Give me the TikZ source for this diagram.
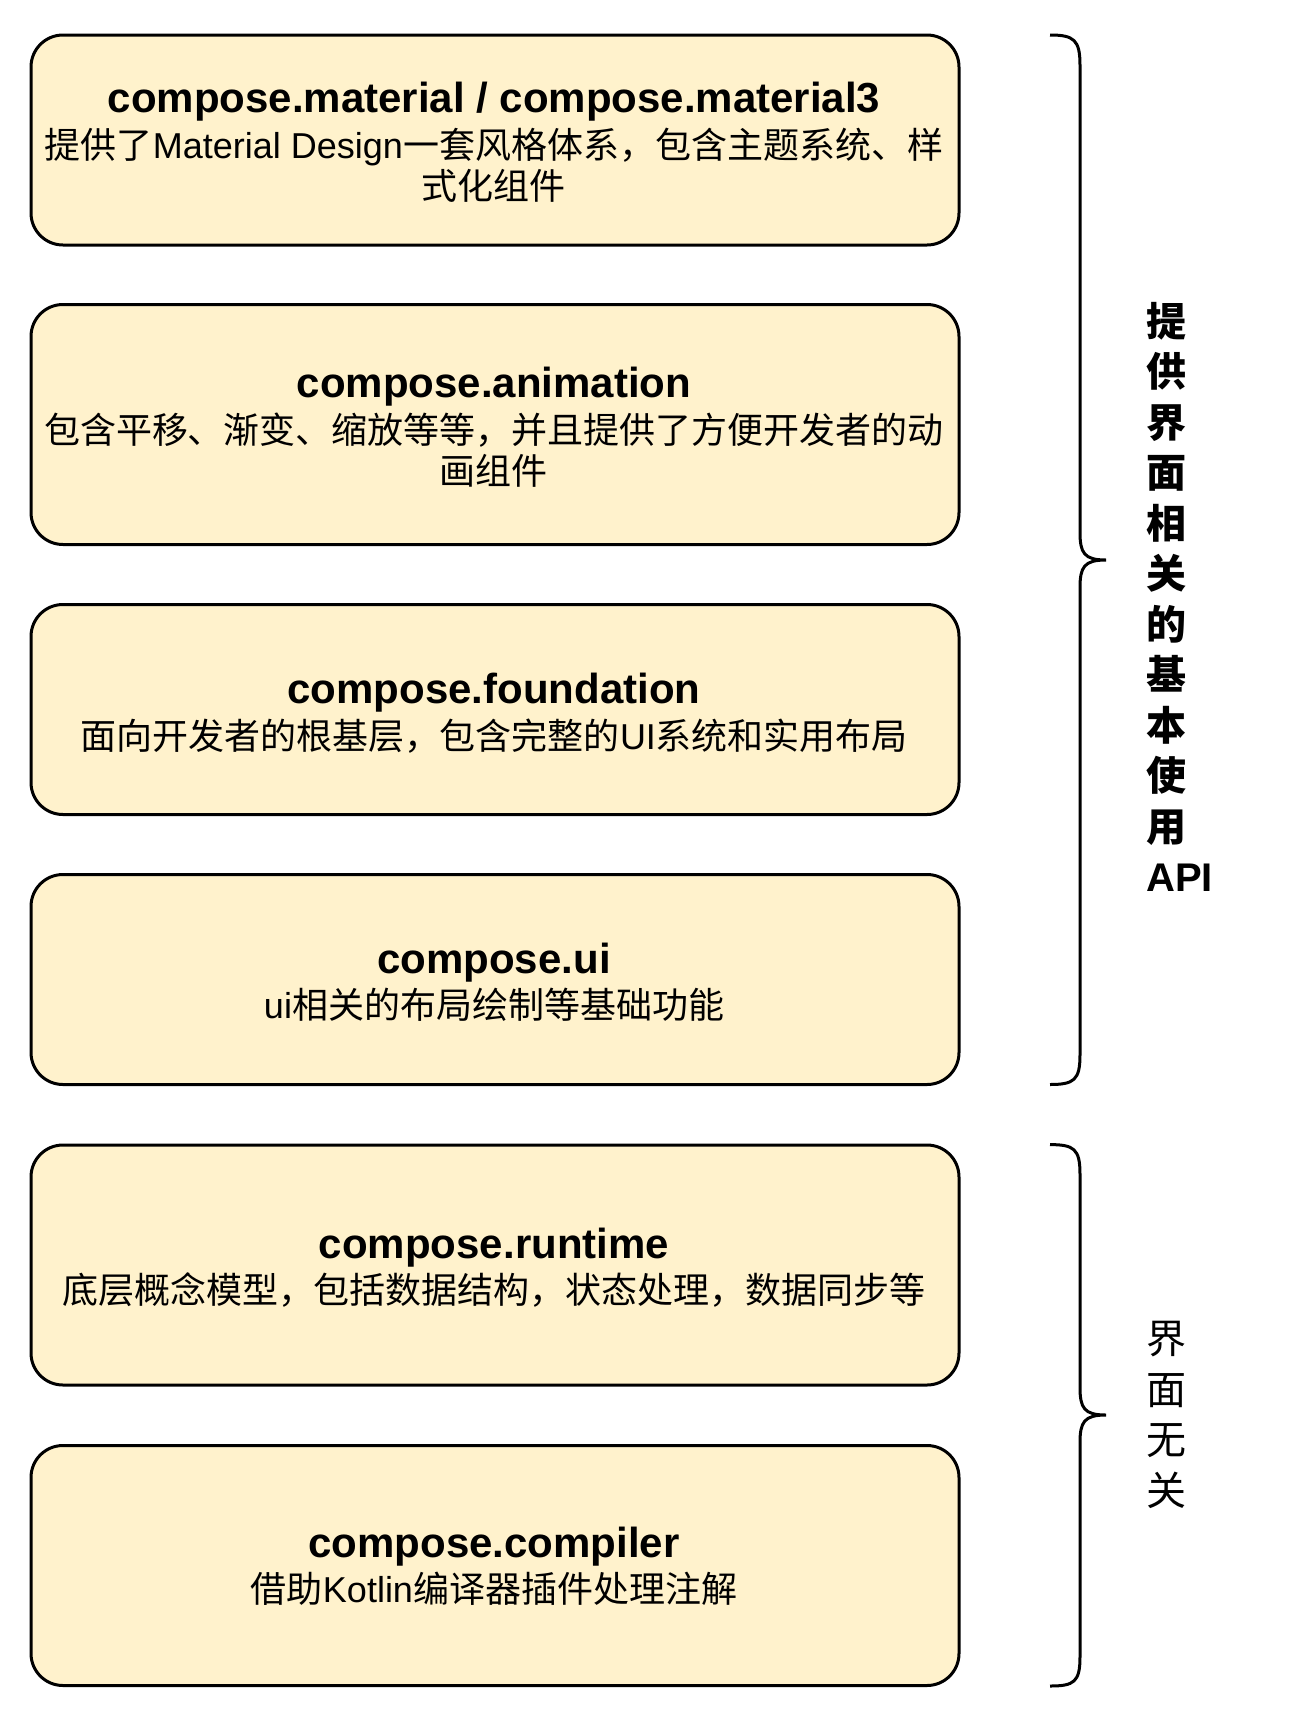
\documentclass[tikz,border=0pt]{standalone}
\usepackage{fontspec}
\setmainfont{Liberation Sans}
\newfontfamily\cjk{Noto Sans CJK SC}
\definecolor{boxfill}{HTML}{FFF2CC}
\begin{document}
\begin{tikzpicture}[x=1pt,y=-1pt,
  box/.style={draw=black, line width=3pt, fill=boxfill, rounded corners=32pt, minimum width=928pt, inner sep=0pt},
  ttl/.style={font=\fontsize{42}{48}\selectfont\bfseries, inner sep=0pt},
  dsc/.style={font=\fontsize{36}{41}\selectfont, align=center, inner sep=0pt},
  bracepath/.style={draw=black, line width=3pt},
  side/.style={align=left, inner sep=0pt, anchor=west}]
\useasboundingbox (0,0) rectangle (1302,1714);

% boxes
\node[box, minimum height=210pt] (b1) at (495,140) {};
\node[box, minimum height=240pt] (b2) at (495,424.5) {};
\node[box, minimum height=210pt] (b3) at (495,709.5) {};
\node[box, minimum height=210pt] (b4) at (495,979.5) {};
\node[box, minimum height=240pt] (b5) at (495,1265) {};
\node[box, minimum height=240pt] (b6) at (495,1565.5) {};

% titles
\node[ttl] (t1) at (494,102) {compose.material / compose.material3};
\node[ttl] (t2) at (494,386.6) {compose.animation};
\node[ttl] (t3) at (494,692.7) {compose.foundation};
\node[ttl] (t4) at (494,962.7) {compose.ui};
\node[ttl] (t5) at (494,1248) {compose.runtime};
\node[ttl] (t6) at (494,1547) {compose.compiler};

% descriptions
\node[dsc] (d1) at (494,165) {{\cjk 提供了}Material Design{\cjk 一套风格体系，包含主题系统、样}\\{\cjk 式化组件}};
\node[dsc] (d2) at (494,450) {{\cjk 包含平移、渐变、缩放等等，并且提供了方便开发者的动}\\{\cjk 画组件}};
\node[dsc] (d3) at (494,735.7) {{\cjk 面向开发者的根基层，包含完整的}UI{\cjk 系统和实用布局}};
\node[dsc] (d4) at (494,1004.7) {ui{\cjk 相关的布局绘制等基础功能}};
\node[dsc] (d5) at (494,1290) {{\cjk 底层概念模型，包括数据结构，状态处理，数据同步等}};
\node[dsc] (d6) at (494,1588.4) {{\cjk 借助}Kotlin{\cjk 编译器插件处理注解}};

% braces
\draw[bracepath] (1050,35) .. controls (1074,35) and (1080,40) .. (1080,65)
  -- (1080,532) .. controls (1080,553) and (1084,560) .. (1106,560)
  .. controls (1084,560) and (1080,567) .. (1080,588)
  -- (1080,1055) .. controls (1080,1080) and (1074,1084.5) .. (1050,1084.5);
\draw[bracepath] (1050,1144.6) .. controls (1074,1144.6) and (1080,1149) .. (1080,1174)
  -- (1080,1387) .. controls (1080,1408) and (1084,1415) .. (1106,1415)
  .. controls (1084,1415) and (1080,1422) .. (1080,1443)
  -- (1080,1657) .. controls (1080,1682) and (1074,1686) .. (1050,1686);

% side labels
\node[side, font=\cjk\bfseries\fontsize{40}{50.5}\selectfont] (s1) at (1146,597) {提\\供\\界\\面\\相\\关\\的\\基\\本\\使\\用\\{\rmfamily\bfseries API}};
\node[side, font=\cjk\fontsize{40}{50.5}\selectfont] (s2) at (1146,1415) {界\\面\\无\\关};
\end{tikzpicture}
\end{document}
